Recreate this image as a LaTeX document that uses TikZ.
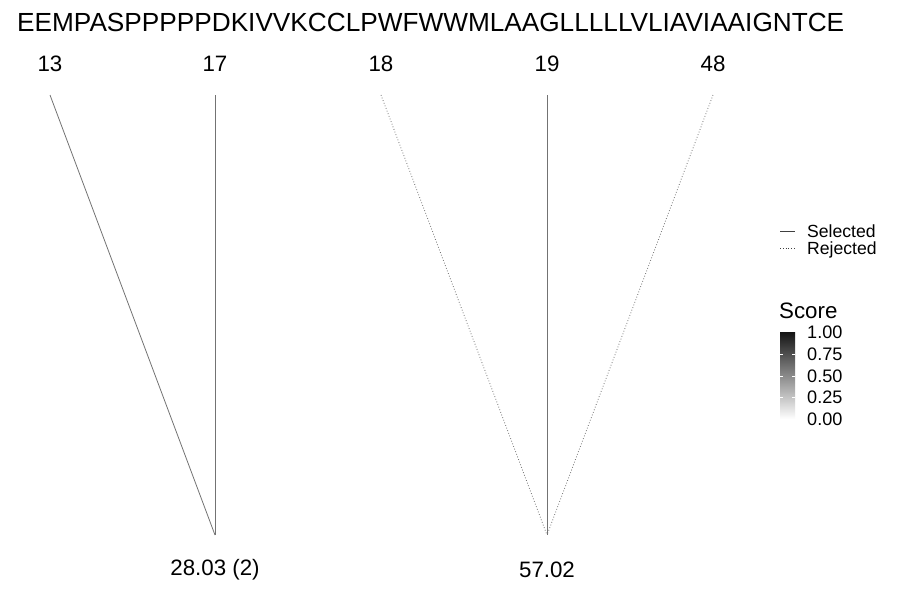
\documentclass[tikz,border=0pt]{standalone}
\usepackage{fontspec}
\setmainfont{Liberation Sans}
\begin{document}
\begin{tikzpicture}[x=1pt,y=-1pt,
  lbl/.style={inner sep=0pt,font=\fontsize{22.3}{22}\selectfont},
  seq/.style={inner sep=0pt,font=\fontsize{26.2}{26}\selectfont},
  leg/.style={inner sep=0pt,anchor=base west,text depth=0pt,font=\fontsize{17.6}{18}\selectfont},
  tick/.style={inner sep=0pt,anchor=west,font=\fontsize{18.1}{18}\selectfont},
  sel/.style={draw=black!55,line width=0.8pt},
  rej/.style={draw=black!55,line width=0.8pt,dotted},
]
\useasboundingbox[fill=white] (0,0) rectangle (900,600);
\node[seq,anchor=west] (seqtxt) at (17,22) {EEMPASPPPPPDKIVVKCCLPWFWWMLAAGLLLLLVLIAVIAAIGNTCE};
\node[lbl] (n13) at (50,64) {13};
\node[lbl] (n17) at (215,64) {17};
\node[lbl] (n18) at (381,64) {18};
\node[lbl] (n19) at (547,64) {19};
\node[lbl] (n48) at (713,64) {48};
\coordinate (t13) at (50,95);
\coordinate (t17) at (215,95);
\coordinate (t18) at (381,95);
\coordinate (t19) at (547,95);
\coordinate (t48) at (713,95);
\coordinate (b1) at (215,535);
\coordinate (b2) at (547,535);
\draw[sel] (t13) -- (b1);
\draw[sel] (t17) -- (b1);
\draw[rej] (t18) -- (b2);
\draw[sel] (t19) -- (b2);
\draw[rej] (t48) -- (b2);
\node[lbl] (m1) at (215,570) {28.03 (2)};
\node[lbl] (m2) at (547,570) {57.02};
% legend
\coordinate (ls1) at (780,231);
\coordinate (ls2) at (795,231);
\coordinate (lr1) at (780,248);
\coordinate (lr2) at (795,248);
\draw[sel,draw=black!75] (ls1) -- (ls2);
\draw[rej,draw=black!75] (lr1) -- (lr2);
\node[leg] (lsel) at (807,237.5) {Selected};
\node[leg] (lrej) at (807,254.5) {Rejected};
\node[inner sep=0pt,anchor=west,font=\fontsize{22.3}{22}\selectfont] (score) at (779,311) {Score};
\shade[top color=black!92,bottom color=white] (780,332) rectangle (795,419);
\foreach \y/\t in {332/1.00,354/0.75,376/0.50,397/0.25,419/0.00}{
  \node[tick] at (807,\y) {\t};
}
\foreach \y in {354,376,397}{
  \draw[white,line width=0.5pt] (780,\y) -- (783,\y);
  \draw[white,line width=0.5pt] (792,\y) -- (795,\y);
}
\end{tikzpicture}
\end{document}
